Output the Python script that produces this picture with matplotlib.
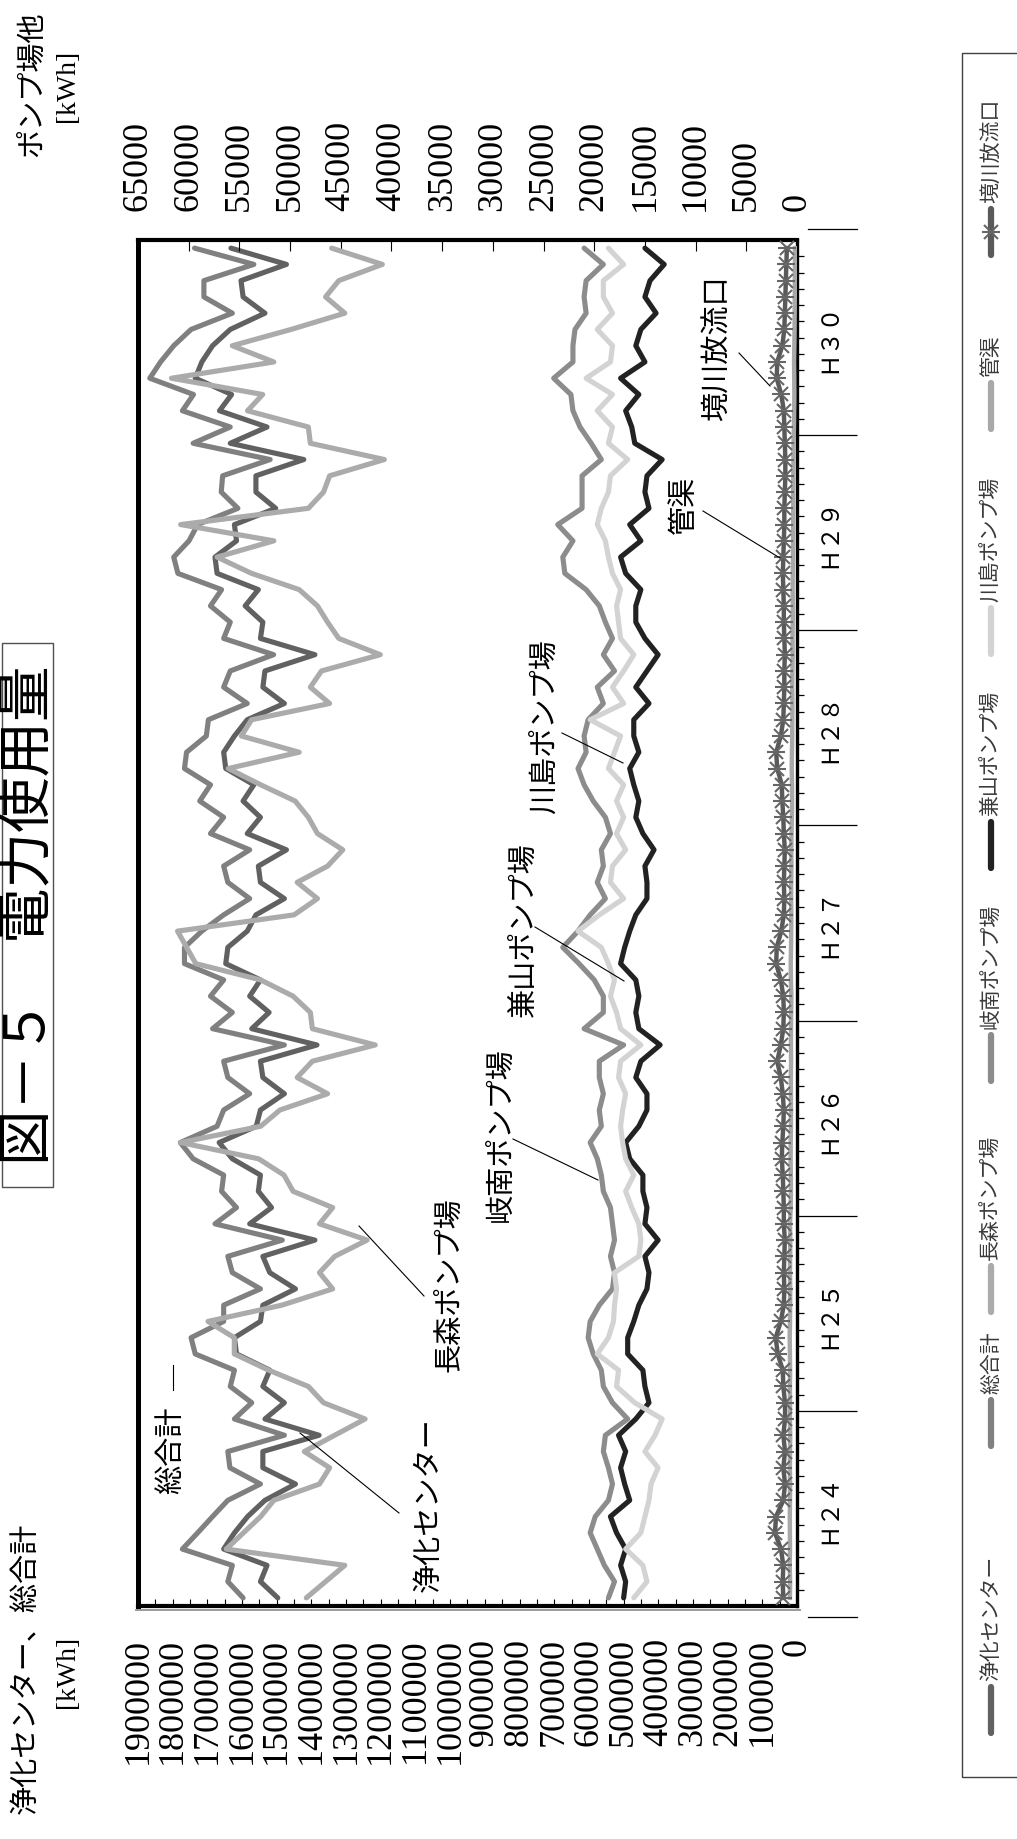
import matplotlib
matplotlib.use("Agg")
import matplotlib.pyplot as plt
import matplotlib.transforms as mtransforms
from matplotlib.lines import Line2D
from matplotlib.patches import Rectangle

plt.rcParams['font.family'] = ['Noto Sans CJK JP', 'DejaVu Sans']

# ---------------------------------------------------------------------------
# Monthly electricity use [kWh], April H24 - March H30 fiscal years (84 months)
# ---------------------------------------------------------------------------
fiscal_years = ['Ｈ２４', 'Ｈ２５', 'Ｈ２６', 'Ｈ２７', 'Ｈ２８', 'Ｈ２９', 'Ｈ３０']
months_per_year = 12

# left scale series
jouka_center = [
    1497000, 1547000, 1528000, 1653000, 1622000, 1584000, 1534000, 1446000, 1540000, 1540000, 1378000, 1534000,
    1478000, 1540000, 1520000, 1616000, 1622000, 1547000, 1540000, 1446000, 1520000, 1540000, 1390000, 1578000,
    1515000, 1553000, 1547000, 1628000, 1666000, 1559000, 1547000, 1478000, 1540000, 1547000, 1384000, 1572000,
    1522000, 1578000, 1547000, 1647000, 1641000, 1585000, 1560000, 1478000, 1547000, 1553000, 1472000, 1585000,
    1547000, 1597000, 1566000, 1647000, 1653000, 1622000, 1585000, 1478000, 1540000, 1534000, 1390000, 1547000,
    1540000, 1591000, 1553000, 1672000, 1678000, 1616000, 1622000, 1503000, 1560000, 1560000, 1422000, 1634000,
    1528000, 1665000, 1630000, 1735000, 1716000, 1685000, 1634000, 1534000, 1597000, 1603000, 1472000, 1632000,
]
total = [
    1597000, 1641000, 1628000, 1772000, 1728000, 1685000, 1641000, 1547000, 1635000, 1641000, 1478000, 1622000,
    1572000, 1634000, 1622000, 1735000, 1747000, 1653000, 1653000, 1547000, 1628000, 1641000, 1484000, 1678000,
    1616000, 1659000, 1653000, 1741000, 1778000, 1672000, 1653000, 1578000, 1641000, 1653000, 1478000, 1685000,
    1628000, 1691000, 1653000, 1766000, 1766000, 1716000, 1653000, 1578000, 1641000, 1653000, 1578000, 1691000,
    1653000, 1722000, 1691000, 1766000, 1760000, 1703000, 1697000, 1585000, 1653000, 1634000, 1509000, 1653000,
    1634000, 1691000, 1659000, 1785000, 1797000, 1753000, 1728000, 1612000, 1660000, 1656000, 1519000, 1741000,
    1634000, 1772000, 1740000, 1866000, 1835000, 1797000, 1747000, 1628000, 1710000, 1710000, 1566000, 1737000,
]

# right scale series (pump stations etc.)
nagamori = [
    48400, 46500, 44600, 56300, 54600, 52900, 51600, 47100, 46100, 48600, 45600, 42600,
    46700, 48200, 52100, 55500, 55500, 58100, 50800, 45800, 47100, 45600, 42400, 47100,
    45800, 49700, 50600, 53100, 60800, 52900, 51000, 46300, 49300, 47800, 41600, 47800,
    48000, 49700, 52900, 59300, 60200, 61100, 49600, 47300, 49300, 46300, 44800, 47300,
    48200, 49500, 52900, 56100, 49100, 54800, 53800, 46100, 48000, 46900, 41100, 45200,
    46300, 47300, 49100, 53800, 57200, 51600, 60800, 48200, 46700, 46100, 40700, 48000,
    48200, 54200, 52700, 61700, 51600, 55700, 49900, 44600, 46500, 45200, 40900, 45900,
]
ginan = [
    18600, 18000, 19000, 19700, 20400, 19900, 18600, 18200, 18600, 19100, 18900, 16700,
    18200, 19100, 19300, 20100, 20600, 20400, 19500, 18200, 18000, 18400, 18000, 18200,
    18400, 19100, 19300, 19700, 20400, 19300, 19500, 19100, 19500, 19500, 17100, 21000,
    19100, 19100, 20000, 21500, 23100, 21600, 20400, 18900, 19700, 19100, 19300, 18400,
    18900, 20100, 21000, 21600, 20800, 21000, 20600, 19100, 19700, 18000, 19100, 18200,
    18900, 19500, 20800, 22900, 23100, 22100, 23600, 21200, 21200, 21200, 19300, 20300,
    21400, 22100, 22300, 24000, 22100, 22100, 21900, 20800, 21000, 20800, 19100, 21000,
]
kaneyama = [
    17100, 16900, 17400, 16900, 17800, 18400, 16500, 17000, 17400, 16900, 17600, 15900,
    14600, 15000, 15200, 16700, 16700, 16100, 15600, 14800, 14600, 15000, 13700, 15000,
    14800, 15200, 15200, 16500, 16900, 15600, 14800, 14800, 15900, 15400, 13500, 15600,
    15900, 15600, 15900, 17400, 17000, 16500, 15900, 14800, 14800, 15000, 14100, 15200,
    15900, 15600, 16100, 16500, 15600, 16100, 16100, 14600, 15900, 14800, 13700, 15000,
    15900, 15900, 15400, 16900, 17400, 15400, 16500, 14600, 15000, 14800, 13300, 16000,
    16300, 16900, 15600, 17400, 15000, 15900, 15400, 13900, 15000, 14500, 13100, 15000,
]
kawashima = [
    16100, 14800, 15200, 16900, 15400, 15000, 14600, 14400, 13700, 15000, 14000, 13300,
    16000, 17800, 17600, 19700, 18600, 18100, 18000, 17800, 18000, 15600, 15400, 15600,
    16300, 16900, 16100, 16900, 17200, 17400, 17200, 16900, 17600, 17400, 15400, 17400,
    17800, 18400, 18000, 18600, 19300, 21600, 19500, 17100, 18400, 18200, 16900, 17800,
    17100, 17800, 17100, 18600, 18000, 17400, 20400, 17100, 18200, 17100, 16100, 17400,
    17600, 17800, 17400, 18200, 18600, 18900, 19700, 19300, 18600, 18400, 16700, 18600,
    18200, 19700, 18200, 20800, 18400, 18200, 19700, 18200, 19100, 19100, 17100, 18600,
]
kankyo = [
    700, 680, 720, 690, 700, 710, 690, 680, 700, 690, 670, 700,
    690, 700, 680, 700, 720, 690, 680, 670, 690, 680, 660, 690,
    620, 600, 610, 630, 620, 600, 590, 600, 610, 580, 600, 590,
    580, 560, 600, 620, 590, 570, 560, 580, 570, 550, 560, 540,
    500, 480, 490, 520, 500, 470, 460, 450, 470, 450, 430, 440,
    420, 410, 430, 420, 400, 390, 380, 370, 390, 360, 350, 340,
    300, 280, 260, 270, 290, 260, 240, 230, 220, 210, 200, 200,
]
sakaigawa = [
    1350, 1410, 1350, 1580, 2170, 2070, 1350, 1180, 1350, 1180, 1350, 1180,
    1180, 1350, 1400, 1900, 2100, 1600, 1300, 1250, 1300, 1250, 1200, 1300,
    1300, 1350, 1400, 1500, 1450, 1350, 1300, 1400, 1600, 1950, 1600, 1350,
    1300, 1350, 1600, 2050, 2000, 1550, 1300, 1250, 1300, 1250, 1200, 1300,
    1350, 1450, 1500, 1950, 2050, 1600, 1350, 1300, 1250, 1250, 1200, 1250,
    1300, 1300, 1350, 1400, 1350, 1300, 1250, 1250, 1200, 1150, 1150, 1200,
    1250, 1300, 1550, 2000, 1950, 1450, 1250, 1200, 1150, 1100, 1050, 1000,
]

left_ticks = list(range(0, 1900001, 100000))
right_ticks = list(range(0, 65001, 5000))

n_months = len(jouka_center)
for s in (total, nagamori, ginan, kaneyama, kawashima, kankyo, sakaigawa):
    assert len(s) == n_months

# ---------------------------------------------------------------------------
W, H, DPI = 1017, 1839, 100
fig = plt.figure(figsize=(W / DPI, H / DPI), dpi=DPI)
fig.patch.set_facecolor('white')


def fx(px):
    return px / W


def fy(py):
    return 1 - py / H


def ftext(x, y, s, **kw):
    return fig.text(fx(x), fy(y), s, **kw)


def fline(xs, ys, **kw):
    fig.add_artist(Line2D([fx(v) for v in xs], [fy(v) for v in ys], **kw))


PL, PR, PT, PB = 138, 797, 240, 1606
ax = fig.add_axes([fx(PL), fy(PB), fx(PR) - fx(PL), fy(PT) - fy(PB)])
months = list(range(n_months))

line_kw = dict(lw=3.7, solid_joinstyle='round', solid_capstyle='round')
ax.plot(jouka_center, months, color='#616161', **line_kw)
ax.plot(total, months, color='#808080', **line_kw)
ax.set_xlim(1900000, 0)
ax.set_ylim(-0.5, n_months - 0.5)

ax2 = ax.twiny()
ax2.plot(nagamori, months, color='#ababab', **line_kw)
ax2.plot(ginan, months, color='#8c8c8c', **line_kw)
ax2.plot(kaneyama, months, color='#222222', **line_kw)
ax2.plot(kawashima, months, color='#d3d3d3', **line_kw)
ax2.plot(kankyo, months, color='#a8a8a8', lw=3.2, solid_joinstyle='round')
ax2.plot(sakaigawa, months, color='#5a5a5a', lw=3.2, marker='x', ms=10, mew=1.5,
         mec='#666666', solid_joinstyle='round')
ax2.plot(sakaigawa, months, ls='none', marker='_', ms=13, mew=1.5, mec='#666666')
ax2.set_xlim(65000, 0)
ax2.set_ylim(-0.5, n_months - 0.5)

# --- value axes --------------------------------------------------------------
ax.set_xticks(left_ticks, labels=[str(v) for v in left_ticks])
ax.set_xticks([v + 50000 for v in left_ticks[:-1]], minor=True)
ax.tick_params(axis='x', which='both', direction='in', length=5, width=0.8,
               pad=23, labelsize=26, labelrotation=90, top=False, bottom=True)
for lbl in ax.get_xticklabels():
    lbl.set_fontfamily('Liberation Serif')

ax2.set_xticks(right_ticks, labels=[str(v) for v in right_ticks])
ax2.tick_params(axis='x', direction='in', length=8, width=0.8, pad=21,
                labelsize=26, labelrotation=90)
for lbl in ax2.get_xticklabels():
    lbl.set_fontfamily('Liberation Serif')

# --- time axis (right side) ----------------------------------------------------
year_bounds = [i * months_per_year - 0.5 for i in range(1, len(fiscal_years))]
ax.yaxis.tick_right()
ax.set_yticks(year_bounds, labels=[''] * len(year_bounds))
ax.set_yticks([m + 0.5 for m in range(n_months - 1)], minor=True)
ax.tick_params(axis='y', which='major', direction='out', length=43, width=0.9,
               left=False, right=True)
ax.tick_params(axis='y', which='minor', direction='out', length=5, width=0.9,
               left=False, right=True)

trans = mtransforms.blended_transform_factory(ax.transAxes, ax.transData)
edge_off = 0.68
for yv in (-0.5 - edge_off, n_months - 0.5 + edge_off):
    ax.plot([1.016, 1.091], [yv, yv], transform=trans, clip_on=False,
            color='black', lw=0.9)
for i, fy_label in enumerate(fiscal_years):
    centre = i * months_per_year + (months_per_year - 1) / 2
    ax.text(1.050, centre, fy_label, transform=trans, rotation=90,
            ha='center', va='center', fontsize=17,
            family=['Liberation Serif', 'Noto Sans CJK JP'])

# --- frame -----------------------------------------------------------------------
for side, lw in (('left', 3.6), ('top', 3.0), ('bottom', 3.0), ('right', 2.4)):
    ax.spines[side].set_linewidth(lw)
    ax.spines[side].set_color('black')
for sp in ax2.spines.values():
    sp.set_visible(False)
fline([PL - 2, PR + 3], [PB + 4, PB + 4], color='#9a9a9a', lw=1.4)

# --- axis titles -------------------------------------------------------------------
ftext(26, 1668, '浄化センター、総合計', rotation=90, ha='center', va='center', fontsize=21)
ftext(68, 1672, '[kWh]', rotation=90, ha='center', va='center', fontsize=20,
      family='Liberation Serif')
ftext(32, 84, 'ポンプ場他', rotation=90, ha='center', va='center', fontsize=21)
ftext(68, 86, '[kWh]', rotation=90, ha='center', va='center', fontsize=20,
      family='Liberation Serif')

# --- title -------------------------------------------------------------------------
ftext(29, 915, '図－５　電力使用量', rotation=90, ha='center', va='center', fontsize=40)
fig.add_artist(Rectangle((fx(2), fy(1187)), fx(53) - fx(2), fy(643) - fy(1187),
                         transform=fig.transFigure, fill=False, lw=1.0, ec='#505050'))

# --- series callouts ---------------------------------------------------------------
callouts = [
    ('総合計', (171, 1450), [(173, 1365), (173, 1390)]),
    ('浄化センター', (429, 1505), [(399, 1513), (300, 1433)]),
    ('長森ポンプ場', (449, 1285), [(424, 1296), (359, 1226)]),
    ('岐南ポンプ場', (501, 1135), [(513, 1139), (598, 1180)]),
    ('兼山ポンプ場', (524, 930), [(535, 927), (624, 981)]),
    ('川島ポンプ場', (545, 727), [(562, 733), (623, 763)]),
    ('管渠', (684, 505), [(703, 511), (780, 558)]),
    ('境川放流口', (718, 348), [(739, 353), (770, 386)]),
]
for text, (tx, ty), pts in callouts:
    ftext(tx, ty, text, rotation=90, ha='center', va='center', fontsize=21)
    fline([p[0] for p in pts], [p[1] for p in pts], color='black', lw=0.8)

# --- legend --------------------------------------------------------------------------
fig.add_artist(Rectangle((fx(962), fy(1777)), fx(1030) - fx(962), fy(53) - fy(1777),
                         transform=fig.transFigure, fill=False, lw=1.0, ec='#404040'))
legend_rows = [
    ('浄化センター', '#616161', 1733),
    ('総合計', '#808080', 1446),
    ('長森ポンプ場', '#ababab', 1312),
    ('岐南ポンプ場', '#8c8c8c', 1081),
    ('兼山ポンプ場', '#222222', 868),
    ('川島ポンプ場', '#d3d3d3', 654),
    ('管渠', '#a8a8a8', 429),
    ('境川放流口', '#5a5a5a', 255),
]
LX = 991
for text, col, yb in legend_rows:
    fline([LX, LX], [yb, yb - 46], color=col, lw=4.5, solid_capstyle='round')
    if text == '境川放流口':
        for mk, ms in (('x', 10), ('_', 13)):
            fig.add_artist(Line2D([fx(LX)], [fy(yb - 23)], ls='none', marker=mk,
                                  ms=ms, mew=1.5, mec='#666666'))
    ftext(LX, yb - 52, text, rotation=90, rotation_mode='anchor', ha='left',
          va='center', fontsize=15, color='#3a3a3a')

fig.savefig('out.png', dpi=DPI)
